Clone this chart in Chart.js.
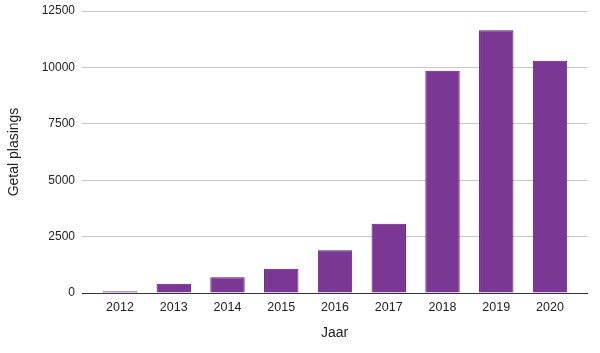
<!DOCTYPE html>
<html>
<head>
<meta charset="utf-8">
<script src="https://cdn.jsdelivr.net/npm/chart.js@4"></script>
<style>
html,body{margin:0;padding:0;background:#fff;}
#wrap{width:600px;height:353px;position:relative;}
</style>
</head>
<body>
<div id="wrap"><canvas id="c" width="600" height="353"></canvas></div>
<script>
const categories = ['2012','2013','2014','2015','2016','2017','2018','2019','2020'];
const values = [80, 410, 700, 1070, 1890, 3070, 9850, 11650, 10300];
const yTicks = [0, 2500, 5000, 7500, 10000, 12500];
const xTitle = 'Jaar';
const yTitle = 'Getal plasings';

const points = categories.map((c, i) => ({x: i, y: values[i]}));
const FONT = "'Liberation Sans', Arial, sans-serif";

new Chart(document.getElementById('c'), {
  type: 'bar',
  data: {
    datasets: [{
      data: points,
      backgroundColor: '#7b3794',
      borderColor: '#5e1674',
      borderWidth: 1,
      categoryPercentage: 1,
      barPercentage: 0.64
    }]
  },
  options: {
    responsive: false,
    animation: false,
    layout: {padding: {top: 0, right: 13, left: 0, bottom: 0}},
    plugins: {legend: {display: false}, tooltip: {enabled: false}},
    scales: {
      x: {
        type: 'linear',
        offset: false,
        min: -0.707,
        max: 8.688,
        grid: {display: false, drawTicks: false},
        border: {display: true, color: '#333', width: 1},
        ticks: {
          stepSize: 1,
          includeBounds: false,
          autoSkip: false,
          maxRotation: 0,
          padding: 7,
          color: '#222',
          font: {family: FONT, size: 12.5},
          callback: v => Number.isInteger(v) && categories[v] !== undefined ? categories[v] : ''
        },
        title: {display: true, text: xTitle, color: '#222', font: {family: FONT, size: 14}, padding: {top: 4, bottom: 11}},
        afterFit: s => { s.height = 60; }
      },
      y: {
        min: 0,
        max: 12500,
        grid: {color: '#c8c8c8', drawTicks: false},
        border: {display: false},
        afterBuildTicks: s => { s.ticks = yTicks.map(v => ({value: v})); },
        ticks: {padding: 7, color: '#222', font: {family: FONT, size: 12}, callback: v => String(v)},
        title: {display: true, text: yTitle, color: '#222', font: {family: FONT, size: 14}, padding: {top: 6, bottom: 0}},
        afterFit: s => { s.width = 82; s.paddingTop = 11; }
      }
    }
  }
});
</script>
</body>
</html>
